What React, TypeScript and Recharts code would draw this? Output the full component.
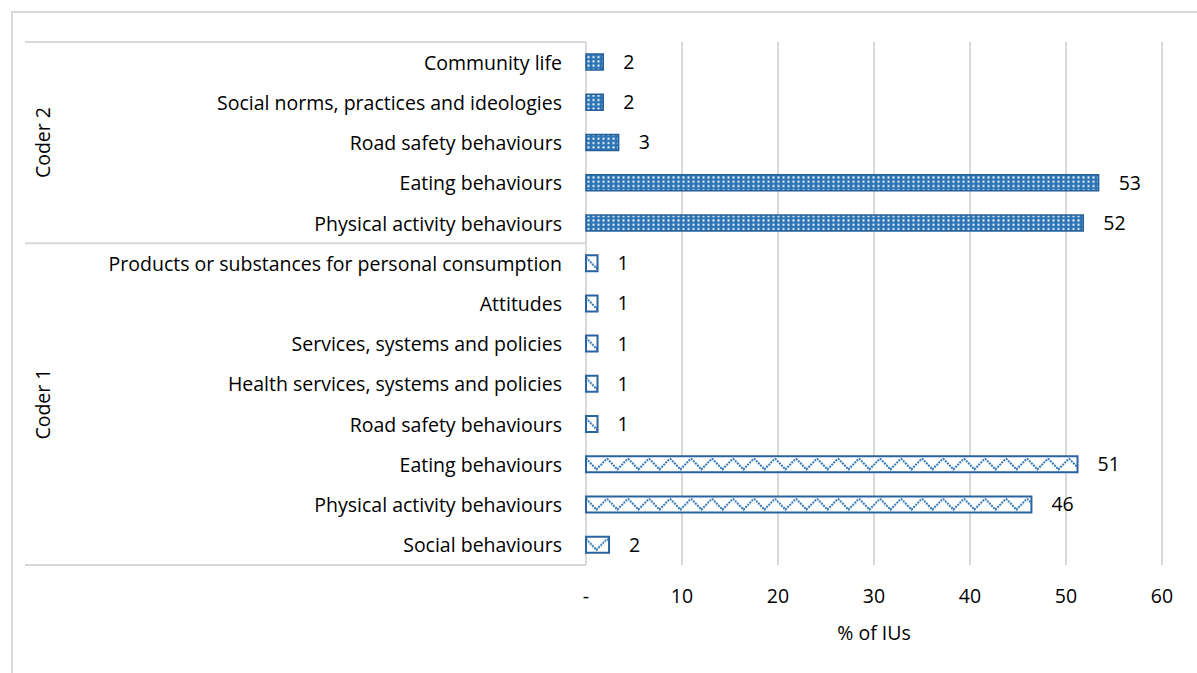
import { BarChart, Bar, XAxis, YAxis, CartesianGrid, Cell, LabelList } from "recharts";

// category labels, top to bottom, per coder
const coder2Labels = [
  "Community life",
  "Social norms, practices and ideologies",
  "Road safety behaviours",
  "Eating behaviours",
  "Physical activity behaviours",
];
const coder2Values = [1.8, 1.8, 3.4, 53.4, 51.8];

const coder1Labels = [
  "Products or substances for personal consumption",
  "Attitudes",
  "Services, systems and policies",
  "Health services, systems and policies",
  "Road safety behaviours",
  "Eating behaviours",
  "Physical activity behaviours",
  "Social behaviours",
];
const coder1Values = [1.2, 1.2, 1.2, 1.2, 1.2, 51.2, 46.4, 2.4];

const groupNames = ["Coder 2", "Coder 1"];
const xTicks = [0, 10, 20, 30, 40, 50, 60];

const rows = [
  ...coder2Labels.map((label, i) => ({ id: `c2-${i}`, label, value: coder2Values[i], group: 0 })),
  ...coder1Labels.map((label, i) => ({ id: `c1-${i}`, label, value: coder1Values[i], group: 1 })),
];

const W = 1197;
const H = 673;
const PLOT_LEFT = 586;
const PLOT_TOP = 42;
const PLOT_BOTTOM = 565;
const PLOT_RIGHT = 1162;
const BAND = (PLOT_BOTTOM - PLOT_TOP) / rows.length;

const FONT = "'Open Sans', Lato, sans-serif";
const FONT_SIZE = 19.5;
const GRID = "#D9D9D9";

const CategoryTick = ({ y, payload, index }: any) => {
  const row = rows[index] ?? rows.find((r) => r.id === payload.value);
  if (!row) return null;
  const first = index === 0 || rows[index - 1].group !== row.group;
  const last = index === rows.length - 1;
  const groupSize = rows.filter((r) => r.group === row.group).length;
  const top = y - BAND / 2;
  return (
    <g>
      <text
        x={PLOT_LEFT - 24}
        y={y}
        textAnchor="end"
        dominantBaseline="central"
        fontFamily={FONT}
        fontSize={FONT_SIZE}
        fill="#000"
      >
        {row.label}
      </text>
      {first && (
        <>
          <line x1={25} x2={PLOT_LEFT} y1={top} y2={top} stroke={GRID} strokeWidth={2} />
          <text
            transform={`translate(42, ${top + (groupSize * BAND) / 2}) rotate(-90)`}
            textAnchor="middle"
            dominantBaseline="central"
            fontFamily={FONT}
            fontSize={FONT_SIZE}
            fill="#000"
          >
            {groupNames[row.group]}
          </text>
        </>
      )}
      {last && (
        <line x1={25} x2={PLOT_LEFT} y1={y + BAND / 2} y2={y + BAND / 2} stroke={GRID} strokeWidth={2} />
      )}
    </g>
  );
};

const ValueTick = ({ x, y, payload }: any) => (
  <text
    x={x}
    y={y + 4}
    textAnchor="middle"
    dominantBaseline="central"
    fontFamily={FONT}
    fontSize={FONT_SIZE}
    fill="#000"
  >
    {payload.value === 0 ? "-" : payload.value}
  </text>
);

export default function App() {
  return (
    <div
      style={{
        position: "absolute",
        left: 0,
        top: 0,
        width: W,
        height: H,
        overflow: "hidden",
        background: "#fff",
      }}
    >
      <div
        style={{
          position: "absolute",
          left: 11,
          top: 11,
          width: 1300,
          height: 800,
          border: `2px solid ${GRID}`,
        }}
      />
      <BarChart
        width={W}
        height={H}
        data={rows}
        layout="vertical"
        margin={{ top: PLOT_TOP, bottom: 0, left: 0, right: W - PLOT_RIGHT }}
        barSize={16}
        style={{ position: "absolute", left: 0, top: 0 }}
      >
        <defs>
          <pattern id="coder2Dots" x={PLOT_LEFT} y={PLOT_TOP} width={5} height={4.3} patternUnits="userSpaceOnUse">
            <rect width={5} height={4.3} fill="#2E75B6" />
            <rect x={1.5} y={1.2} width={2} height={1.9} fill="#fff" />
          </pattern>
          <pattern id="coder1Zigzag" x={PLOT_LEFT} y={PLOT_TOP} width={21} height={BAND} patternUnits="userSpaceOnUse">
            <rect width={21} height={BAND} fill="#fff" />
            <polyline
              points={`0,${BAND / 2 - 6} 10.5,${BAND / 2 + 5} 21,${BAND / 2 - 6}`}
              fill="none"
              stroke="#2E75B6"
              strokeWidth={2}
              strokeDasharray="2 1"
            />
          </pattern>
        </defs>
        <CartesianGrid horizontal={false} stroke={GRID} strokeWidth={2} />
        <XAxis
          type="number"
          domain={[0, 60]}
          ticks={xTicks}
          axisLine={false}
          tickLine={false}
          height={H - PLOT_BOTTOM}
          tick={<ValueTick />}
          tickMargin={20}
          label={{
            value: "% of IUs",
            position: "insideTop",
            offset: 61,
            fontFamily: FONT,
            fontSize: FONT_SIZE,
            fill: "#000",
          }}
        />
        <YAxis
          type="category"
          dataKey="id"
          width={PLOT_LEFT}
          axisLine={false}
          tickLine={false}
          interval={0}
          tick={<CategoryTick />}
        />
        <Bar dataKey="value" isAnimationActive={false}>
          {rows.map((r) => (
            <Cell
              key={r.id}
              fill={r.group === 0 ? "url(#coder2Dots)" : "url(#coder1Zigzag)"}
              stroke={r.group === 0 ? "#25609A" : "#2A63A0"}
              strokeWidth={r.group === 0 ? 1.5 : 2}
            />
          ))}
          <LabelList
            dataKey="value"
            position="right"
            offset={20}
            formatter={(v: any) => Math.round(Number(v))}
            fill="#000"
            fontFamily={FONT}
            fontSize={FONT_SIZE}
          />
        </Bar>
      </BarChart>
    </div>
  );
}
